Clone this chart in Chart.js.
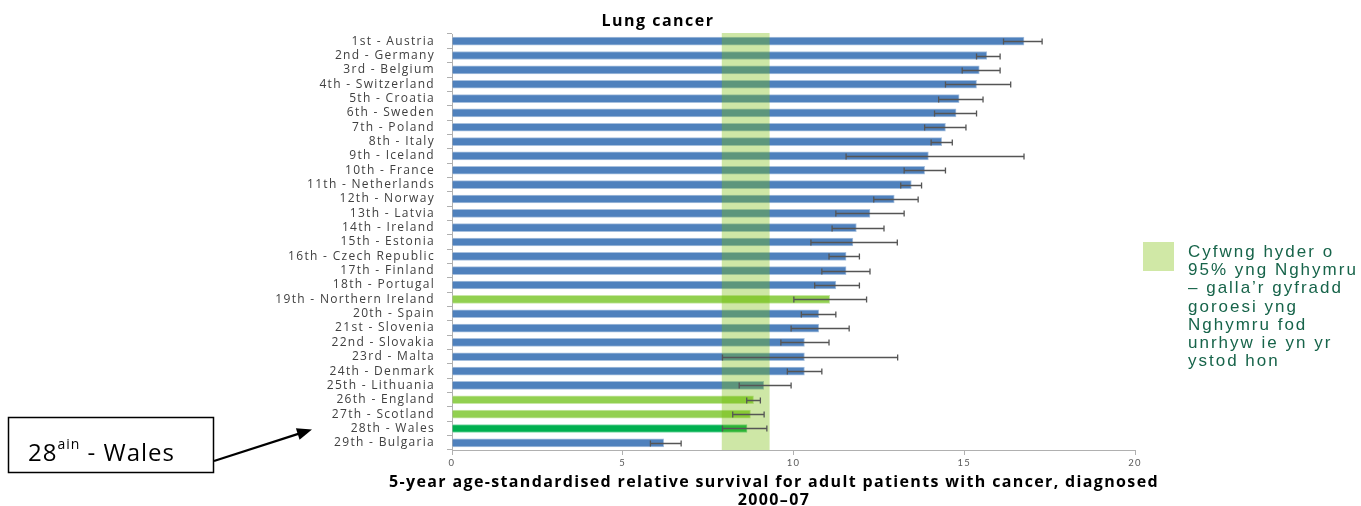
<!DOCTYPE html>
<html>
<head>
<meta charset="utf-8">
<title>Lung cancer</title>
<script src="https://cdn.jsdelivr.net/npm/chart.js"></script>
<style>
  html, body { margin: 0; padding: 0; background: #fff; overflow: hidden; }
</style>
</head>
<body>
<canvas id="lungChart" width="1361" height="506"></canvas>
<script>
// ranking labels (top to bottom)
const countries = [
  '1st - Austria', '2nd - Germany', '3rd - Belgium', '4th - Switzerland', '5th - Croatia',
  '6th - Sweden', '7th - Poland', '8th - Italy', '9th - Iceland', '10th - France',
  '11th - Netherlands', '12th - Norway', '13th - Latvia', '14th - Ireland', '15th - Estonia',
  '16th - Czech Republic', '17th - Finland', '18th - Portugal', '19th - Northern Ireland', '20th - Spain',
  '21st - Slovenia', '22nd - Slovakia', '23rd - Malta', '24th - Denmark', '25th - Lithuania',
  '26th - England', '27th - Scotland', '28th - Wales', '29th - Bulgaria'
];
// 5-year relative survival (%)
const survival = [
  16.75, 15.66, 15.44, 15.36, 14.85, 14.76, 14.45, 14.34, 13.95, 13.84,
  13.45, 12.95, 12.24, 11.84, 11.74, 11.54, 11.54, 11.24, 11.06, 10.74,
  10.74, 10.32, 10.32, 10.32, 9.13, 8.83, 8.74, 8.64, 6.2
];
// 95% confidence intervals
const ciLow = [
  16.15, 15.36, 14.94, 14.45, 14.25, 14.13, 13.84, 14.03, 11.54, 13.24,
  13.14, 12.35, 11.24, 11.13, 10.51, 11.04, 10.83, 10.62, 10.01, 10.23,
  9.93, 9.63, 7.92, 9.82, 8.41, 8.63, 8.22, 7.92, 5.81
];
const ciHigh = [
  17.28, 16.05, 16.05, 16.36, 15.55, 15.36, 15.05, 14.65, 16.75, 14.45,
  13.75, 13.65, 13.24, 12.65, 13.04, 11.93, 12.24, 11.93, 12.14, 11.24,
  11.63, 11.04, 13.05, 10.83, 9.93, 9.03, 9.14, 9.22, 6.71
];
// Wales confidence band
const walesBand = [7.9, 9.3];
const xTicks = [0, 5, 10, 15, 20];

const ukOther = ['19th - Northern Ireland', '26th - England', '27th - Scotland'];
const barColours = countries.map(c =>
  c === '28th - Wales' ? '#00b050' : (ukOther.includes(c) ? '#92d050' : '#4f81bd'));
const barEdges = countries.map(c =>
  c === '28th - Wales' ? '#7fd7a7' : (ukOther.includes(c) ? '#c8e7a7' : '#a7c0de'));

const overlays = {
  id: 'overlays',
  beforeDraw(chart) {
    // the source labels are widely tracked
    chart.ctx.letterSpacing = '1.3px';
  },
  beforeDatasetsDraw(chart) {
    chart.ctx.letterSpacing = '0px';
  },
  afterDatasetsDraw(chart) {
    const { ctx, chartArea: a, scales: { x, y } } = chart;
    // confidence band for Wales
    ctx.save();
    ctx.fillStyle = 'rgba(119,188,8,0.36)';
    const b0 = x.getPixelForValue(walesBand[0]), b1 = x.getPixelForValue(walesBand[1]);
    ctx.fillRect(b0, a.top - 1, b1 - b0, a.bottom - a.top + 1);
    // error bars
    ctx.lineWidth = 1.3;
    ctx.strokeStyle = '#555';
    countries.forEach((c, i) => {
      const yy = Math.round(y.getPixelForValue(i)) + 0.5;
      const l = x.getPixelForValue(ciLow[i]), h = x.getPixelForValue(ciHigh[i]);
      ctx.beginPath();
      ctx.moveTo(l, yy); ctx.lineTo(h, yy);
      ctx.moveTo(l, yy - 3); ctx.lineTo(l, yy + 3);
      ctx.moveTo(h, yy - 3); ctx.lineTo(h, yy + 3);
      ctx.stroke();
    });
    ctx.restore();
  },
  afterDraw(chart) {
    const { ctx, scales: { y } } = chart;
    ctx.save();
    // title
    ctx.fillStyle = '#000';
    ctx.textAlign = 'center';
    ctx.textBaseline = 'middle';
    ctx.font = 'bold 16px "Open Sans"';
    ctx.letterSpacing = '1.5px';
    ctx.fillText('Lung cancer', 658, 21);
    // x axis title
    ctx.font = 'bold 16px "Open Sans"';
    ctx.letterSpacing = '1.35px';
    ctx.fillText('5-year age-standardised relative survival for adult patients with cancer, diagnosed', 774, 482);
    ctx.fillText('2000\u201307', 774, 500);

    // legend for band
    ctx.fillStyle = '#d0e8a6';
    ctx.fillRect(1143, 242, 31, 29);
    ctx.fillStyle = '#17644a';
    ctx.textAlign = 'left';
    ctx.textBaseline = 'alphabetic';
    ctx.font = '17px "Liberation Sans"';
    ctx.letterSpacing = '2px';
    const legendLines = ['Cyfwng hyder o', '95% yng Nghymru', '\u2013 galla\u2019r gyfradd',
      'goroesi yng', 'Nghymru fod', 'unrhyw ie yn yr', 'ystod hon'];
    legendLines.forEach((t, i) => ctx.fillText(t, 1188, 257 + i * 18.2));

    // annotation box
    ctx.letterSpacing = '1px';
    ctx.strokeStyle = '#000';
    ctx.lineWidth = 1.5;
    ctx.strokeRect(8.5, 417.5, 205, 55);
    ctx.fillStyle = '#000';
    ctx.font = '24px "Open Sans"';
    ctx.fillText('28', 28, 461);
    const w = ctx.measureText('28').width;
    ctx.font = '14px "Open Sans"';
    ctx.fillText('ain', 28 + w, 449);
    const w2 = ctx.measureText('ain').width;
    ctx.font = '24px "Open Sans"';
    ctx.fillText(' - Wales', 28 + w + w2, 461);
    ctx.letterSpacing = '0px';

    // arrow to Wales label
    const tipX = 312, tipY = y.getPixelForValue(27) + 1;
    const sx = 214, sy = 461;
    const ang = Math.atan2(tipY - sy, tipX - sx);
    ctx.lineWidth = 2.2;
    ctx.beginPath();
    ctx.moveTo(sx, sy);
    ctx.lineTo(tipX - 12 * Math.cos(ang), tipY - 12 * Math.sin(ang));
    ctx.stroke();
    ctx.beginPath();
    ctx.moveTo(tipX, tipY);
    ctx.lineTo(tipX - 15 * Math.cos(ang) + 6 * Math.sin(ang), tipY - 15 * Math.sin(ang) - 6 * Math.cos(ang));
    ctx.lineTo(tipX - 15 * Math.cos(ang) - 6 * Math.sin(ang), tipY - 15 * Math.sin(ang) + 6 * Math.cos(ang));
    ctx.closePath();
    ctx.fill();
    ctx.restore();
  }
};

new Chart(document.getElementById('lungChart'), {
  type: 'bar',
  data: {
    labels: countries,
    datasets: [{
      data: survival,
      backgroundColor: barColours,
      borderColor: barEdges,
      borderWidth: 1,
      borderSkipped: 'start',
      barThickness: 8
    }]
  },
  options: {
    indexAxis: 'y',
    responsive: false,
    animation: false,
    devicePixelRatio: 1,
    layout: { padding: { left: 0, right: 226, top: 34, bottom: 0 } },
    plugins: { legend: { display: false }, tooltip: { enabled: false }, title: { display: false } },
    scales: {
      x: {
        min: 0, max: 20,
        afterFit(s) { s.height = 56; },
        afterBuildTicks(s) { s.ticks = xTicks.map(v => ({ value: v })); },
        grid: { drawOnChartArea: false, color: '#b0b0b0', tickLength: 5 },
        border: { color: '#b0b0b0' },
        ticks: { color: '#595959', font: { size: 9.5, family: 'Lato' }, padding: 2 }
      },
      y: {
        afterFit(s) { s.width = 452; },
        grid: { drawOnChartArea: false, color: '#b0b0b0', tickLength: 5, offset: true },
        border: { color: '#b0b0b0' },
        ticks: { color: '#404040', font: { size: 12, family: 'Open Sans' }, padding: 12, autoSkip: false }
      }
    }
  },
  plugins: [overlays]
});
</script>
</body>
</html>
